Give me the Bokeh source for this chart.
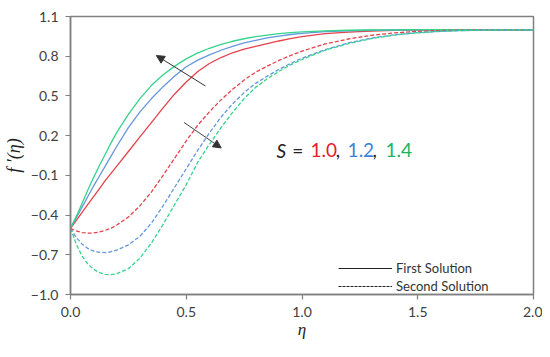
from bokeh.plotting import figure
from bokeh.models import FixedTicker, Arrow, NormalHead, Legend, LegendItem, Label
from bokeh.embed import file_html
from bokeh.resources import INLINE

# ---------------- data ----------------
ETA = [0, 0.025, 0.05, 0.075, 0.1, 0.125, 0.15, 0.175, 0.2, 0.25, 0.3, 0.35, 0.4,
       0.45, 0.5, 0.55, 0.6, 0.65, 0.7, 0.75, 0.8, 0.85, 0.9, 0.95, 1.0, 1.1, 1.2,
       1.3, 1.4, 1.5, 1.6, 1.7, 1.8, 1.9, 2.0]

# first solutions (solid)
FIRST_S10 = [-0.5, -0.44, -0.38, -0.32, -0.26, -0.20, -0.14, -0.085, -0.03, 0.08, 0.19,
             0.30, 0.41, 0.515, 0.605, 0.685, 0.745, 0.79, 0.826, 0.853, 0.875, 0.895,
             0.915, 0.933, 0.948, 0.97, 0.982, 0.99, 0.995, 0.998, 0.999, 1.0, 1.0, 1.0, 1.0]
FIRST_S12 = [-0.5, -0.42, -0.34, -0.26, -0.18, -0.105, -0.03, 0.045, 0.12, 0.26, 0.38,
             0.48, 0.57, 0.65, 0.72, 0.77, 0.81, 0.845, 0.875, 0.9, 0.92, 0.938, 0.952,
             0.964, 0.973, 0.985, 0.992, 0.996, 0.998, 0.999, 1.0, 1.0, 1.0, 1.0, 1.0]
FIRST_S14 = [-0.5, -0.41, -0.31, -0.21, -0.115, -0.025, 0.06, 0.145, 0.225, 0.36, 0.48,
             0.58, 0.66, 0.725, 0.78, 0.825, 0.86, 0.89, 0.913, 0.932, 0.948, 0.96, 0.97,
             0.978, 0.984, 0.992, 0.996, 0.998, 0.999, 1.0, 1.0, 1.0, 1.0, 1.0, 1.0]

# second solutions (dashed)
SECOND_S10 = [-0.5, -0.52, -0.532, -0.537, -0.535, -0.528, -0.515, -0.5, -0.475, -0.415,
              -0.33, -0.225, -0.10, 0.03, 0.16, 0.28, 0.38, 0.47, 0.55, 0.62, 0.68, 0.725,
              0.768, 0.805, 0.838, 0.893, 0.93, 0.958, 0.976, 0.988, 0.994, 0.997, 0.999,
              1.0, 1.0]
SECOND_S12 = [-0.5, -0.57, -0.62, -0.652, -0.672, -0.682, -0.683, -0.677, -0.665, -0.625,
              -0.56, -0.46, -0.33, -0.19, -0.05, 0.09, 0.22, 0.34, 0.44, 0.525, 0.595, 0.65,
              0.70, 0.745, 0.785, 0.85, 0.9, 0.937, 0.962, 0.978, 0.988, 0.994, 0.997,
              0.999, 1.0]
SECOND_S14 = [-0.5, -0.62, -0.71, -0.77, -0.81, -0.835, -0.848, -0.85, -0.843, -0.805,
              -0.725, -0.61, -0.47, -0.32, -0.17, 0.0, 0.135, 0.26, 0.375, 0.48, 0.565, 0.63,
              0.685, 0.735, 0.775, 0.845, 0.895, 0.933, 0.96, 0.977, 0.988, 0.994, 0.997,
              0.999, 1.0]

S_VALUES = ["1.0", "1.2", "1.4"]
X_TICKS = [0.0, 0.5, 1.0, 1.5, 2.0]
Y_TICKS = [-1.0, -0.7, -0.4, -0.1, 0.2, 0.5, 0.8, 1.1]
LEGEND_LABELS = ["First Solution", "Second Solution"]

LINE_COLORS = ["#e4424c", "#6497dc", "#34d48c"]
TEXT_COLORS = ["#e2202b", "#3a84d8", "#17b466"]
FONT = "Lato"
NAN = float("nan")

# ---------------- figure ----------------
p = figure(width=542, height=341, x_range=(0, 2), y_range=(-1, 1.1),
           output_backend="svg", toolbar_location=None,
           min_border_left=70, min_border_right=9, min_border_top=16, min_border_bottom=36,
           background_fill_color="white", border_fill_color="white")

p.outline_line_color = "#808080"
p.outline_line_width = 1.5
p.grid.grid_line_color = None

p.xaxis.ticker = FixedTicker(ticks=X_TICKS)
p.yaxis.ticker = FixedTicker(ticks=Y_TICKS)
p.xaxis.major_label_overrides = {t: f"{t:.1f}".replace("-", "\u2212") for t in X_TICKS}
p.yaxis.major_label_overrides = {t: f"{t:.1f}".replace("-", "\u2212") for t in Y_TICKS}

for ax in (p.xaxis, p.yaxis):
    ax.axis_line_color = "#808080"
    ax.axis_line_width = 1.5
    ax.major_tick_line_color = "#808080"
    ax.major_tick_line_width = 1.2
    ax.major_tick_out = 5
    ax.major_tick_in = 0
    ax.minor_tick_line_color = None
    ax.major_label_text_font = FONT
    ax.major_label_text_font_size = "14px"
    ax.major_label_text_color = "#404040"
    ax.major_label_standoff = 7
    ax.axis_label_text_font = "Liberation Serif"
    ax.axis_label_text_font_style = "italic"
    ax.axis_label_text_color = "#222222"

p.xaxis.axis_label = "\u03b7"
p.xaxis.axis_label_text_font_size = "17px"
p.xaxis.axis_label_standoff = 0
p.yaxis.axis_label = "f \u2032(\u03b7)"
p.yaxis.axis_label_text_font_size = "18px"
p.yaxis.axis_label_standoff = 4

# curves
for vals, col in zip([FIRST_S10, FIRST_S12, FIRST_S14], LINE_COLORS):
    p.line(ETA, vals, line_color=col, line_width=1.3)
for vals, col in zip([SECOND_S10, SECOND_S12, SECOND_S14], LINE_COLORS):
    p.line(ETA, vals, line_color=col, line_width=1.3, line_dash="4 2")

# arrows
p.add_layout(Arrow(end=NormalHead(size=8, fill_color="#333333", line_color="#333333"),
                   x_start=0.583, y_start=0.575, x_end=0.371, y_end=0.805,
                   line_color="#333333", line_width=1))
p.add_layout(Arrow(end=NormalHead(size=8, fill_color="#333333", line_color="#333333"),
                   x_start=0.49, y_start=0.30, x_end=0.651, y_end=0.107,
                   line_color="#444444", line_width=1))

# S annotation
parts = [("S", "#222222", "italic", 0.89),
         ("=", "#222222", "normal", 0.958),
         (S_VALUES[0], TEXT_COLORS[0], "normal", 1.037),
         (",", "#222222", "normal", 1.146),
         (S_VALUES[1], TEXT_COLORS[1], "normal", 1.197),
         (",", "#222222", "normal", 1.305),
         (S_VALUES[2], TEXT_COLORS[2], "normal", 1.361)]
for txt, col, style, xx in parts:
    p.add_layout(Label(x=xx, y=0.09, text=txt, text_color=col, text_font=FONT,
                       text_font_style=style, text_font_size="19px",
                       text_baseline="middle", text_align="left"))

# legend
r1 = p.line([NAN, NAN], [NAN, NAN], line_color="#222222", line_width=1)
r2 = p.line([NAN, NAN], [NAN, NAN], line_color="#222222", line_width=1, line_dash="3 1")
legend = Legend(items=[LegendItem(label=LEGEND_LABELS[0], renderers=[r1]),
                       LegendItem(label=LEGEND_LABELS[1], renderers=[r2])],
                location=(268, 0), padding=0, margin=0, spacing=2,
                glyph_width=54, glyph_height=14, label_height=14, label_standoff=4,
                label_text_font=FONT, label_text_font_size="13px",
                label_text_line_height=1.0,
                label_text_color="#333333",
                background_fill_alpha=0, border_line_alpha=0)
p.add_layout(legend)

open("out.html", "w").write(file_html(p, INLINE))
